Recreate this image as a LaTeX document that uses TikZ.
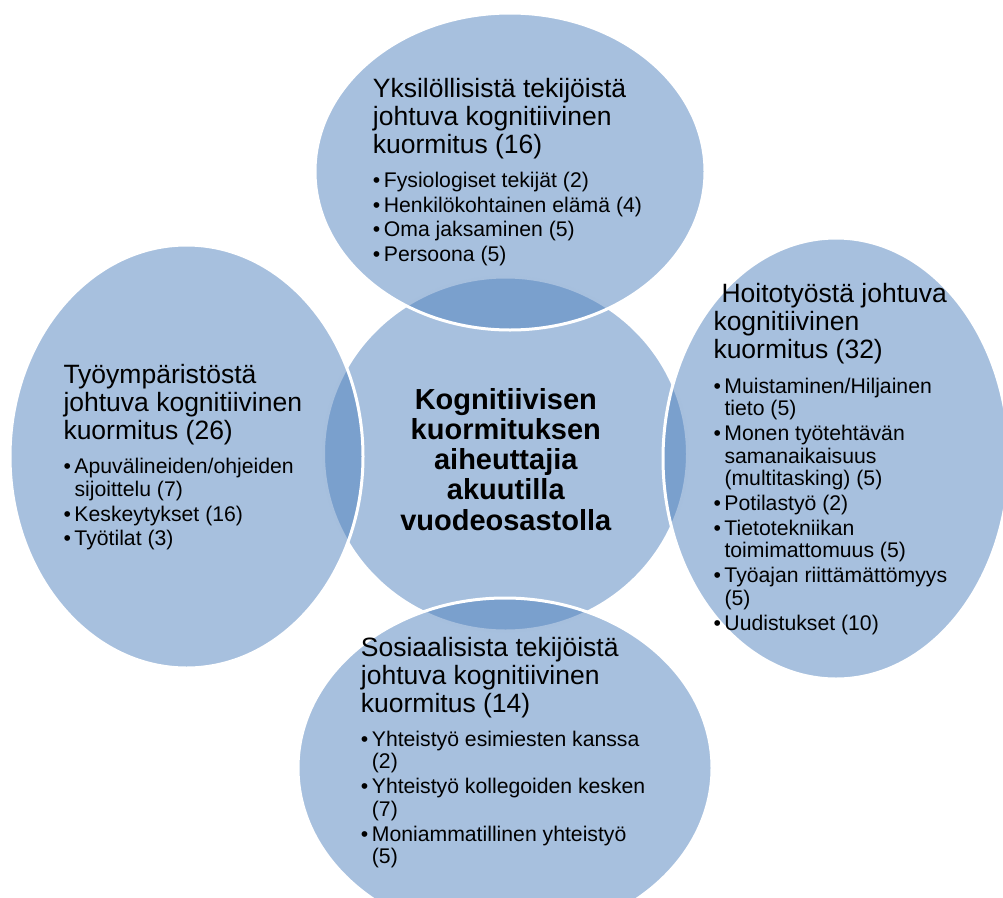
\documentclass[tikz,border=0pt]{standalone}
\usepackage{fontspec}
\setmainfont{Liberation Sans}
\definecolor{vennblue}{HTML}{4F81BD}
\newcommand\vtitle[1]{\hbox{\fontsize{26.5pt}{28pt}\selectfont #1}}
\newcommand\vitem[1]{\hbox{\fontsize{21.2pt}{22.6pt}\selectfont\makebox[11pt][l]{•}#1}}
\newcommand\vcont[1]{\hbox{\fontsize{21.2pt}{22.6pt}\selectfont\hspace*{11pt}#1}}
\newcommand\vblock[1]{\vtop{\lineskiplimit=-\maxdimen\baselineskip=28pt #1}}
\newcommand\tobullets{\baselineskip=22.6pt\vskip11.7pt}
\newcommand\pgap{\vskip2.2pt}
\newcommand\ctrline[1]{\hbox to 0pt{\hss#1\hss}}
\tikzset{
  vennshape/.style={fill=vennblue, fill opacity=0.5, draw=white, draw opacity=1, line width=3pt},
  vtext/.style={anchor=base west, inner sep=0pt, text=black},
}
\begin{document}
\begin{tikzpicture}[x=1pt,y=-1pt]
\useasboundingbox (0,0) rectangle (1003,897);
\clip (0,0) rectangle (1003,897);
% shapes
\path[vennshape] (505.5,454) ellipse [x radius=182, y radius=177];
\path[vennshape] (510,171.5) ellipse [x radius=195, y radius=158.5];
\path[vennshape] (186.5,456.5) ellipse [x radius=176.5, y radius=211.5];
\path[vennshape] (836,458.5) ellipse [x radius=173, y radius=220.5];
\path[vennshape] (505,768) ellipse [x radius=207, y radius=170];
% centre text
\node[anchor=base, inner sep=0pt] (centre) at (505.8,409.3)
  {\vtop{\lineskiplimit=-\maxdimen\baselineskip=30.2pt\fontsize{29pt}{30.2pt}\selectfont\bfseries
   \ctrline{Kognitiivisen}\ctrline{kuormituksen}\ctrline{aiheuttajia}\ctrline{akuutilla}\ctrline{vuodeosastolla}}};
% top
\node[vtext] (toptext) at (372.7,97) {\vblock{%
  \vtitle{Yksilöllisistä tekijöistä}\vtitle{johtuva kognitiivinen}\vtitle{kuormitus (16)}%
  \tobullets
  \vitem{Fysiologiset tekijät (2)}\pgap
  \vitem{Henkilökohtainen elämä (4)}\pgap
  \vitem{Oma jaksaminen (5)}\pgap
  \vitem{Persoona (5)}}};
% left
\node[vtext] (lefttext) at (63.3,383.3) {\vblock{%
  \vtitle{Työympäristöstä}\vtitle{johtuva kognitiivinen}\vtitle{kuormitus (26)}%
  \tobullets
  \vitem{Apuvälineiden/ohjeiden}\vcont{sijoittelu (7)}\pgap
  \vitem{Keskeytykset (16)}\pgap
  \vitem{Työtilat (3)}}};
% right
\node[vtext] (righttext) at (713.3,302.7) {\vblock{%
  \vtitle{\hspace*{8pt}Hoitotyöstä johtuva}\vtitle{kognitiivinen}\vtitle{kuormitus (32)}%
  \tobullets
  \vitem{Muistaminen/Hiljainen}\vcont{tieto (5)}\pgap
  \vitem{Monen työtehtävän}\vcont{samanaikaisuus}\vcont{(multitasking) (5)}\pgap
  \vitem{Potilastyö (2)}\pgap
  \vitem{Tietotekniikan}\vcont{toimimattomuus (5)}\pgap
  \vitem{Työajan riittämättömyys}\vcont{(5)}\pgap
  \vitem{Uudistukset (10)}}};
% bottom
\node[vtext] (bottomtext) at (360.7,656) {\vblock{%
  \vtitle{Sosiaalisista tekijöistä}\vtitle{johtuva kognitiivinen}\vtitle{kuormitus (14)}%
  \tobullets
  \vitem{Yhteistyö esimiesten kanssa}\vcont{(2)}\pgap
  \vitem{Yhteistyö kollegoiden kesken}\vcont{(7)}\pgap
  \vitem{Moniammatillinen yhteistyö}\vcont{(5)}}};
\end{tikzpicture}
\end{document}
